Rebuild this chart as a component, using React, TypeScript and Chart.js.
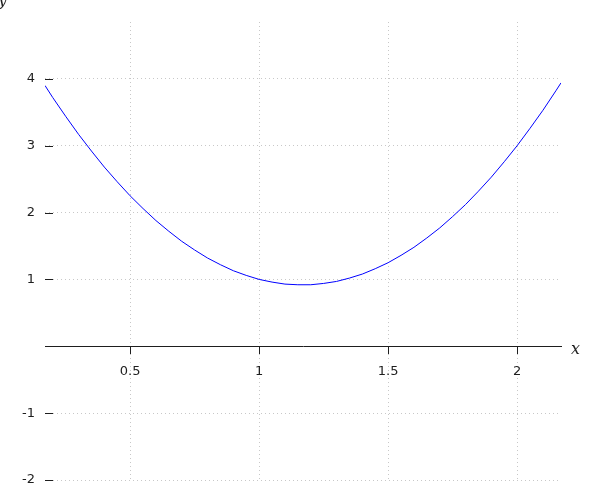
import React, { useEffect, useRef } from "react";
import { Chart, registerables } from "chart.js";

Chart.register(...registerables);

const xValues = [0.17, 0.2, 0.25, 0.3, 0.35, 0.4, 0.45, 0.5, 0.55, 0.6, 0.65, 0.7, 0.75, 0.8, 0.85, 0.9, 0.95, 1.0, 1.05, 1.1, 1.15, 1.2, 1.25, 1.3, 1.35, 1.4, 1.45, 1.5, 1.55, 1.6, 1.65, 1.7, 1.75, 1.8, 1.85, 1.9, 1.95, 2.0, 2.05, 2.1, 2.15, 2.17];
const yValues = [3.9, 3.72, 3.44, 3.17, 2.92, 2.68, 2.46, 2.25, 2.06, 1.88, 1.72, 1.57, 1.44, 1.32, 1.22, 1.13, 1.06, 1.0, 0.96, 0.93, 0.92, 0.92, 0.94, 0.97, 1.02, 1.08, 1.16, 1.25, 1.36, 1.48, 1.62, 1.77, 1.94, 2.12, 2.32, 2.53, 2.76, 3.0, 3.26, 3.53, 3.82, 3.94];
const xTicks = [0.5, 1, 1.5, 2];
const yTicks = [-2, -1, 1, 2, 3, 4];
const xMin = 0.17;
const xMax = 2.17;
const yMin = -2;
const yMax = 4.85;

const INK = "#1e1e1e";
const GRID = "#c8c8c8";
const FONT = "DejaVu Sans";

const extrasPlugin = {
  id: "extras",
  afterDraw(chart: any) {
    const { ctx, chartArea, scales } = chart;
    const ys = scales.y;
    const xs = scales.x;
    ctx.save();
    ctx.setLineDash([]);
    ctx.strokeStyle = INK;
    ctx.lineWidth = 1;
    ctx.beginPath();
    for (const v of yTicks) {
      const py = Math.round(ys.getPixelForValue(v)) + 0.5;
      ctx.moveTo(chartArea.left, py);
      ctx.lineTo(chartArea.left + 8, py);
    }
    ctx.stroke();
    ctx.fillStyle = INK;
    ctx.font = "italic 16px 'DejaVu Serif'";
    ctx.textAlign = "left";
    ctx.textBaseline = "alphabetic";
    const zeroY = ys.getPixelForValue(0);
    ctx.fillText("x", xs.right + 10, zeroY + 8);
    ctx.fillText("y", -2, 5);
    ctx.restore();
  },
};

export default function App() {
  const ref = useRef<HTMLCanvasElement>(null);
  useEffect(() => {
    document.body.style.margin = "0";
    const canvas = ref.current;
    if (!canvas) return;
    const points = xValues.map((x, i) => ({ x, y: yValues[i] }));
    const chart = new Chart(canvas, {
      type: "scatter",
      data: {
        datasets: [
          {
            data: points,
            showLine: true,
            borderColor: "#0000ff",
            borderWidth: 1,
            pointRadius: 0,
            pointHoverRadius: 0,
            fill: false,
            tension: 0,
          },
        ],
      },
      options: {
        animation: false,
        responsive: false,
        events: [],
        layout: { padding: { left: 0, top: 22, right: 39, bottom: 20 } },
        plugins: { legend: { display: false }, tooltip: { enabled: false } },
        scales: {
          x: {
            type: "linear",
            position: { y: 0 } as any,
            min: xMin,
            max: xMax,
            afterBuildTicks: (scale: any) => {
              scale.ticks = xTicks.map((v) => ({ value: v }));
            },
            ticks: {
              color: INK,
              font: { family: FONT, size: 13 },
              padding: 11,
              maxRotation: 0,
              callback: (v: any) => String(v),
            },
            grid: {
              color: GRID,
              tickColor: INK,
              tickBorderDash: [],
              tickLength: 7,
              drawTicks: true,
            } as any,
            border: { display: true, color: INK, width: 1, dash: [1, 3] } as any,
          },
          y: {
            type: "linear",
            position: "left",
            min: yMin,
            max: yMax,
            afterBuildTicks: (scale: any) => {
              scale.ticks = yTicks.map((v) => ({ value: v }));
            },
            afterFit: (scale: any) => {
              scale.width = 45;
            },
            ticks: {
              color: INK,
              font: { family: FONT, size: 13 },
              padding: 10,
              callback: (v: any) => String(v),
            },
            grid: {
              color: GRID,
              drawTicks: false,
            } as any,
            border: { display: false, dash: [1, 3] } as any,
          },
        },
      },
      plugins: [extrasPlugin],
    });
    return () => chart.destroy();
  }, []);
  return (
    <div style={{ width: 600, height: 500 }}>
      <canvas ref={ref} width={600} height={500} />
    </div>
  );
}
